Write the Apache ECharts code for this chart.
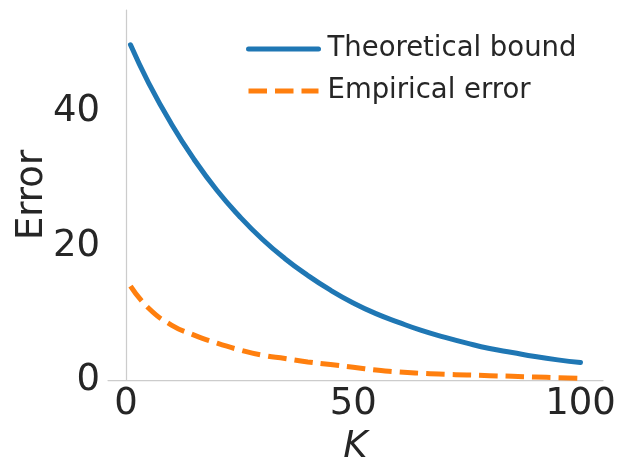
<!DOCTYPE html>
<html>
<head>
<meta charset="utf-8">
<script src="https://cdn.jsdelivr.net/npm/echarts@6/dist/echarts.min.js"></script>
<style>html,body{margin:0;padding:0;background:#fff}#c{width:628px;height:476px}</style>
</head>
<body>
<div id="c"></div>
<script>
const kValues = [1, 5, 10, 15, 20, 25, 30, 35, 40, 45, 50, 55, 60, 65, 70, 75, 80, 85, 90, 95, 100];
const theoreticalBound = [50.0, 44.3, 38.2, 32.9, 28.3, 24.4, 21.0, 18.1, 15.6, 13.4, 11.5, 9.9, 8.6, 7.4, 6.4, 5.5, 4.7, 4.1, 3.5, 3.0, 2.6];
const empiricalError = [14.0, 10.7, 8.2, 6.7, 5.5, 4.5, 3.7, 3.2, 2.7, 2.3, 1.9, 1.5, 1.2, 1.0, 0.85, 0.75, 0.65, 0.55, 0.45, 0.35, 0.25];
const xTicks = [0, 50, 100];
const yTicks = [0, 20, 40];
const seriesNames = ['Theoretical bound', 'Empirical error'];

const txt = '#262626';
const font = 'DejaVu Sans';
const chart = echarts.init(document.getElementById('c'), null, {renderer: 'canvas'});
chart.setOption({
  animation: false,
  backgroundColor: '#fff',
  grid: {left: 108, right: 25, top: 10, bottom: 96, containLabel: false, outerBoundsMode: 'none'},
  legend: {
    orient: 'vertical', left: 246, top: 35, padding: 0, itemWidth: 70, itemHeight: 14, itemGap: 14,
    itemStyle: {opacity: 0},
    lineStyle: {width: 5},
    textStyle: {color: txt, fontSize: 27.5, fontFamily: font, padding: [0, 0, 0, 4]},
    data: seriesNames
  },
  xAxis: {
    type: 'value', min: -3.95, max: 104.95,
    name: 'K', nameLocation: 'middle', nameGap: 49, nameMoveOverlap: false,
    nameTextStyle: {color: txt, fontSize: 37, fontFamily: font, fontStyle: 'italic'},
    axisLine: {show: true, lineStyle: {color: '#cccccc', width: 1.25}},
    axisTick: {show: false},
    splitLine: {show: false},
    axisLabel: {customValues: xTicks, color: txt, fontSize: 37, fontFamily: font, margin: 6}
  },
  yAxis: {
    type: 'value', min: 0, max: 55.2,
    name: 'Error', nameLocation: 'middle', nameGap: 57, nameMoveOverlap: false,
    nameTextStyle: {color: txt, fontSize: 37, fontFamily: font},
    axisLine: {show: true, lineStyle: {color: '#cccccc', width: 1.25}},
    axisTick: {show: false},
    splitLine: {show: false},
    axisLabel: {customValues: yTicks, color: txt, fontSize: 37, fontFamily: font, margin: 8}
  },
  series: [
    {
      name: seriesNames[0], type: 'line', symbol: 'none', smooth: true,
      data: kValues.map((k, i) => [k, theoreticalBound[i]]),
      lineStyle: {color: '#1f77b4', width: 5, cap: 'round'},
      itemStyle: {color: '#1f77b4'}
    },
    {
      name: seriesNames[1], type: 'line', symbol: 'none', smooth: true,
      data: kValues.map((k, i) => [k, empiricalError[i]]),
      lineStyle: {color: '#ff7f0e', width: 5, type: [18.5, 8], cap: 'butt'},
      itemStyle: {color: '#ff7f0e'}
    }
  ]
});
</script>
</body>
</html>
